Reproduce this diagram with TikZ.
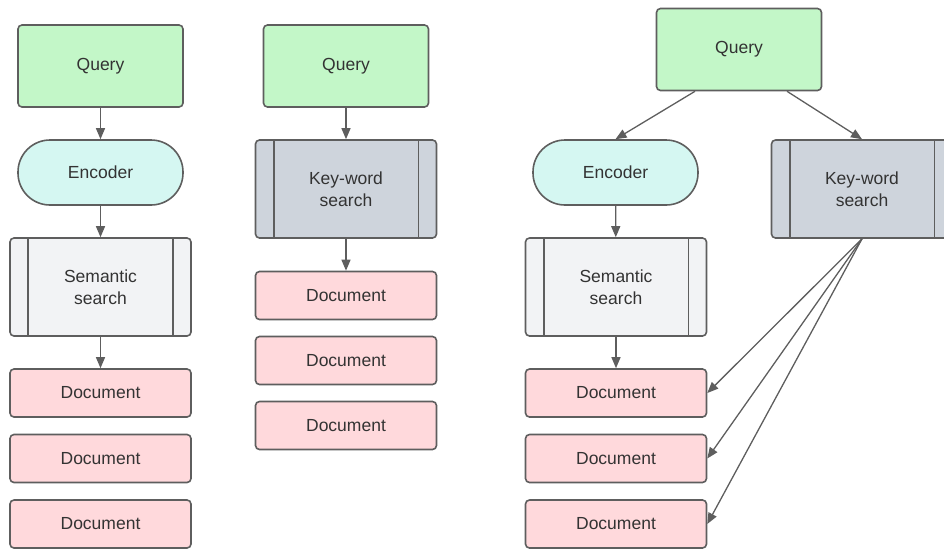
\documentclass[tikz,border=0pt]{standalone}
\usepackage{fontspec}
\setmainfont{Liberation Sans}
\usetikzlibrary{arrows.meta}
\definecolor{edge}{HTML}{5E5E5E}
\definecolor{txt}{HTML}{333333}
\definecolor{qfill}{HTML}{C3F7C8}
\definecolor{efill}{HTML}{D5F7F2}
\definecolor{sfill}{HTML}{F2F3F5}
\definecolor{kfill}{HTML}{CED4DC}
\definecolor{dfill}{HTML}{FFD9DC}
\begin{document}
\begin{tikzpicture}[x=1pt,y=-1pt,
  box/.style={draw=edge, line width=1.6pt, rounded corners=4pt, inner sep=0pt,
    align=center, text=txt, font=\fontsize{17.5}{22}\selectfont},
  size/.style 2 args={minimum width=#1pt, minimum height=#2pt},
  query/.style={box, fill=qfill, size={165}{82}},
  encoder/.style={box, fill=efill, size={165}{65}, rounded corners=32pt},
  semantic/.style={box, fill=sfill, size={181}{98}},
  keyword/.style={box, fill=kfill, size={181}{98}},
  document/.style={box, fill=dfill, size={181}{48}},
  bar/.style={draw=edge, line width=1.6pt},
  arr/.style={draw=edge, line width=1.3pt, -{Triangle[length=11pt,width=9pt]}}]
\useasboundingbox (0,0) rectangle (944,550);
\clip (0,0) rectangle (944,550);

% dense retrieval pipeline
\node[query]    (q1)  at (100.5,66)  {Query};
\node[encoder]  (e1)  at (100.5,172.5) {Encoder};
\node[semantic] (s1)  at (100.5,287) {Semantic\\search};
\node[document] (d1a) at (100.5,393) {Document};
\node[document] (d1b) at (100.5,458.5) {Document};
\node[document] (d1c) at (100.5,524) {Document};

% keyword retrieval pipeline
\node[query]    (q2)  at (346,66)    {Query};
\node[keyword]  (k2)  at (346,189)   {Key-word\\search};
\node[document] (d2a) at (346,295.5) {Document};
\node[document] (d2b) at (346,360.5) {Document};
\node[document] (d2c) at (346,425.5) {Document};

% hybrid retrieval
\node[query]    (q3)  at (739,49.5)  {Query};
\node[encoder]  (e3)  at (615.5,172.5) {Encoder};
\node[keyword]  (k3)  at (862,189)   {Key-word\\search};
\node[semantic] (s3)  at (616,287)   {Semantic\\search};
\node[document] (d3a) at (616,393)   {Document};
\node[document] (d3b) at (616,458.5) {Document};
\node[document] (d3c) at (616,524)   {Document};

% side bars of the predefined-process boxes
\foreach \n in {s1,k2,s3,k3}{
  \draw[bar] ([xshift=19pt]\n.north west) -- ([xshift=19pt]\n.south west);
  \draw[bar] ([xshift=-19pt]\n.north east) -- ([xshift=-19pt]\n.south east);
}

% connectors
\draw[arr] (q1) -- (e1);
\draw[arr] (e1) -- (s1);
\draw[arr] (s1) -- (d1a);

\draw[arr] (q2) -- (k2);
\draw[arr] (k2) -- (d2a);

\draw[arr] ([xshift=-44pt]q3.south) -- (e3.north);
\draw[arr] ([xshift=48pt]q3.south) -- (k3.north);
\draw[arr] (e3) -- (s3);
\draw[arr] (s3) -- (d3a);
\draw[arr] (k3.south) -- (d3a.east);
\draw[arr] (k3.south) -- (d3b.east);
\draw[arr] (k3.south) -- (d3c.east);
\end{tikzpicture}
\end{document}
